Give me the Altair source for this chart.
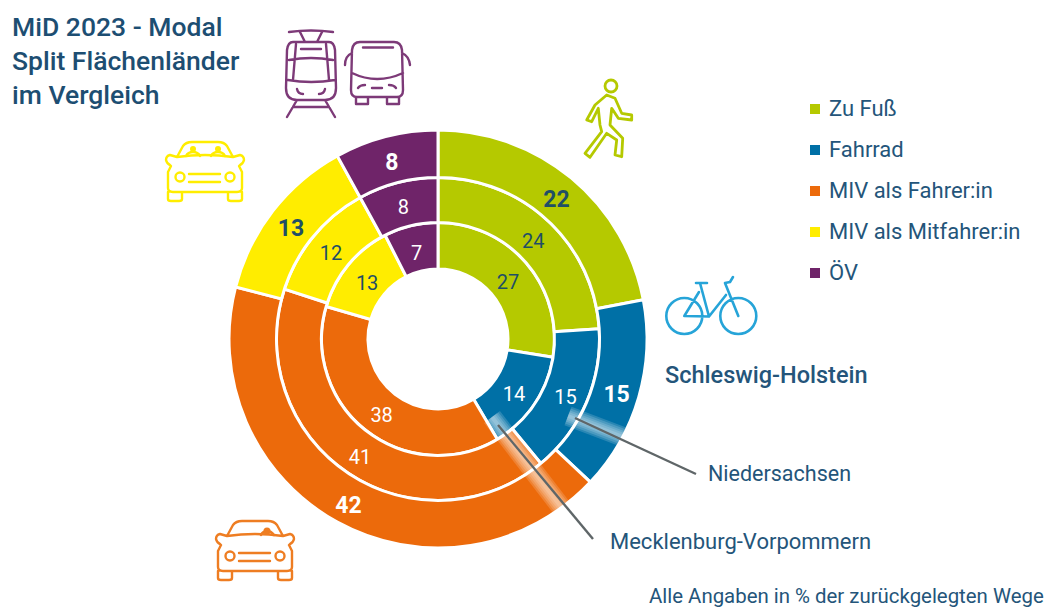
import altair as alt
import pandas as pd

categories = ["Zu Fuß", "Fahrrad", "MIV als Fahrer:in", "MIV als Mitfahrer:in", "ÖV"]
colors = ["#b5c900", "#0070a6", "#ec6a0b", "#ffed00", "#6f2469"]
outer_values = [22, 15, 42, 13, 8]
middle_values = [24, 15, 41, 12, 8]
inner_values = [27.5, 14, 38, 13, 7.5]
outer_labels = ["22", "15", "42", "13", "8"]
middle_labels = ["24", "15", "41", "12", "8"]
inner_labels = ["27", "14", "38", "13", "7"]

FONT = "Roboto"
INK = "#24557a"
CX, CY = 438 - 8, 339 - 8


def ring(values, labels):
    rows, acc = [], 0
    for c, v, l in zip(categories, values, labels):
        rows.append(dict(cat=c, start=acc, end=acc + v, mid=acc + v / 2, label=l,
                         dark=c in ("Zu Fuß", "MIV als Mitfahrer:in")))
        acc += v
    return pd.DataFrame(rows)


theta_scale = alt.Scale(domain=[0, 100], range=[0, 6.283185307])
color_enc = alt.Color(
    "cat:N",
    sort=categories,
    scale=alt.Scale(domain=categories, range=colors),
    legend=alt.Legend(
        orient="none", legendX=796, legendY=90, title=None, symbolType="square",
        symbolSize=100, symbolStrokeWidth=0, symbolOpacity=1, labelFont=FONT,
        labelFontSize=22, labelColor=INK, rowPadding=19, labelOffset=3, labelLimit=300,
    ),
)


def arcs(df, r0, r1):
    return alt.Chart(df).mark_arc(radius=r1, radius2=r0, stroke="white", strokeWidth=3, opacity=1).encode(
        theta=alt.Theta("start:Q", scale=theta_scale),
        theta2="end:Q",
        color=color_enc,
        x=alt.value(CX),
        y=alt.value(CY),
    )


def labels(df, r, size, weight):
    return alt.Chart(df).mark_text(font=FONT, fontSize=size, fontWeight=weight, baseline="middle", dy=4).encode(
        theta=alt.Theta("mid:Q", scale=theta_scale),
        radius=alt.value(r),
        x=alt.value(CX),
        y=alt.value(CY),
        text="label:N",
        color=alt.condition("datum.dark", alt.value("#1f4f66"), alt.value("white")),
    )


def note(text, x, y, size, weight=400, color=INK, align="left"):
    return alt.Chart(pd.DataFrame({"t": [text]})).mark_text(
        font=FONT, fontSize=size, fontWeight=weight, color=color, align=align, baseline="middle"
    ).encode(text="t:N", x=alt.value(x - 8), y=alt.value(y - 8))


def segment(p, q, width, color, opacity=1.0):
    return alt.Chart(pd.DataFrame({"a": [0]})).mark_rule(
        color=color, strokeWidth=width, opacity=opacity, strokeCap="butt"
    ).encode(x=alt.value(p[0] - 8), y=alt.value(p[1] - 8), x2=alt.value(q[0] - 8), y2=alt.value(q[1] - 8))


def icon(path, color, width=2.4, dx=0, dy=0):
    return alt.Chart(pd.DataFrame({"a": [0]})).mark_point(
        shape=path, size=4, filled=False, stroke=color, strokeWidth=width, opacity=1,
        strokeJoin="round", strokeCap="round",
    ).encode(x=alt.value(dx - 8), y=alt.value(dy - 8))


def dot(x, y, size, color):
    return alt.Chart(pd.DataFrame({"a": [0]})).mark_point(
        shape="circle", size=size, filled=True, color=color, opacity=1
    ).encode(x=alt.value(x - 8), y=alt.value(y - 8))


TRAM = ("M289 32Q311 29 333 32M300 32L305 42M322 32L317 42"
        "M293 42L329 42Q334 42 335 50L336 88Q336 100 325 100L297 100Q286 100 286 88L287 50Q288 42 293 42Z"
        "M289 60Q311 56 333 60M288 80Q311 84 335 80M296 44L293 80M326 44L329 80M301 49L321 49"
        "M297 89Q298 94 303 94M325 89Q324 94 319 94"
        "M297 100L287 117M325 100L335 117M293 107L329 107")
BUS = ("M360 42L394 42Q401 42 402 50L403 90Q403 97 397 97L357 97Q351 97 351 90L352 50Q353 42 360 42Z"
       "M363 47.5L393 47.5M352 73Q377 85 403 73M352 53Q345 56 345 65M402 53Q409 56 410 65"
       "M356 97L356 104L368 104L368 97M387 97L387 104L399 104L399 97"
       "M358 88Q360 85 365 85M396 88Q394 85 389 85M372 88L382 88")
CAR = ("M177 157L183 146Q186 142 192 142L218 142Q224 142 227 146L233 157"
       "M177 157Q205 153 233 157M177 157L170 155Q166 156 166 160Q167 164 170 165L171 166"
       "M233 157L240 155Q244 156 244 160Q243 164 240 165L239 166"
       "M171 166L168 172L168 188Q168 192 173 192L237 192Q242 192 242 188L242 172L239 166"
       "M168 192L168 199Q168 201 171 201L179 201Q182 201 182 199L182 193"
       "M228 193L228 199Q228 201 231 201L239 201Q242 201 242 199L242 192"
       "M189 174L220 174M189 182L220 182"
       "M184.5 177A4.5 4.5 0 1 1 175.5 177A4.5 4.5 0 1 1 184.5 177"
       "M234.5 177A4.5 4.5 0 1 1 225.5 177A4.5 4.5 0 1 1 234.5 177")
SHOULDERS_2 = "M186 156Q188 152 193 152Q198 152 200 156M211 156Q213 152 218 152Q223 152 225 156"
SHOULDERS_1 = "M211 156Q213 152 217 152Q221 152 224 156"
WALKER = ("M606.7 95L595 105L586.7 120L591.7 121.7L598.3 108.3L600 125L601.7 131.7L585 153.3L590 157.3"
          "L606.7 133.3L616.7 140L615 155L621.7 156.7L622.7 138.3L610 125L611.7 108.3L618.3 118.3"
          "L631.7 120L631.7 115L621.7 113.3L615 98.3Z"
          "M617 86A6 6 0 1 1 605 86A6 6 0 1 1 617 86")
BIKE = ("M702.3 316A18 18 0 1 1 666.3 316A18 18 0 1 1 702.3 316"
        "M756.3 316A18 18 0 1 1 720.3 316A18 18 0 1 1 756.3 316"
        "M684.3 316L709 316.5L700 283M696 283L707 283M684.3 316L699 292"
        "M709 316.5L726 295M738.3 316L725 283L730 282L733 277")

outer, middle, inner = ring(outer_values, outer_labels), ring(middle_values, middle_labels), ring(inner_values, inner_labels)

layers = [
    arcs(inner, 70, 116.5), arcs(middle, 116.5, 161.5), arcs(outer, 161.5, 209),
]
# soft white halo behind the two leader lines
for w in (20, 16, 12, 8, 4):
    layers.append(segment((568, 416), (626, 438), w, "white", 0.16))
    layers.append(segment((492, 417), (568, 516), w, "white", 0.16))
layers += [
    labels(inner, 92, 20, 400), labels(middle, 139, 20, 400), labels(outer, 186, 23, 700),
    segment((575, 418), (696, 474), 2.4, "#5f6668"),
    segment((498, 425), (593, 539), 2.4, "#5f6668"),
    icon(TRAM, "#7d3a78"), icon(BUS, "#7d3a78"),
    icon(CAR, "#ffed00"), icon(SHOULDERS_2, "#ffed00"),
    dot(193, 149, 36, "#ffed00"), dot(218, 149, 36, "#ffed00"),
    icon(CAR, "#ee7d22", dx=50, dy=379), icon(SHOULDERS_1, "#ee7d22", dx=50, dy=379),
    dot(267, 531, 50, "#ee7d22"),
    icon(WALKER, "#b5c900", 2.8), icon(BIKE, "#26a4d8", 2.6),
    note("Schleswig-Holstein", 665, 376, 23.5, 500),
    note("Niedersachsen", 708, 475, 21.5),
    note("Mecklenburg-Vorpommern", 610, 542, 22),
    note("Alle Angaben in % der zurückgelegten Wege", 649, 597, 20.4),
]

chart = alt.layer(*layers).properties(
    width=1039,
    height=599,
    padding=0,
    background="white",
    autosize=alt.AutoSizeParams(type="none"),
    title=alt.TitleParams(
        text=["MiD 2023 - Modal", "Split Flächenländer", "im Vergleich"],
        anchor="start", frame="group", font=FONT, fontSize=26.5, fontWeight=500,
        color="#1d4e72", lineHeight=34, baseline="top", offset=0, dx=4, dy=101,
    ),
).configure_view(stroke=None)

chart.save("out.html", embed_options={"renderer": "svg", "actions": False})
